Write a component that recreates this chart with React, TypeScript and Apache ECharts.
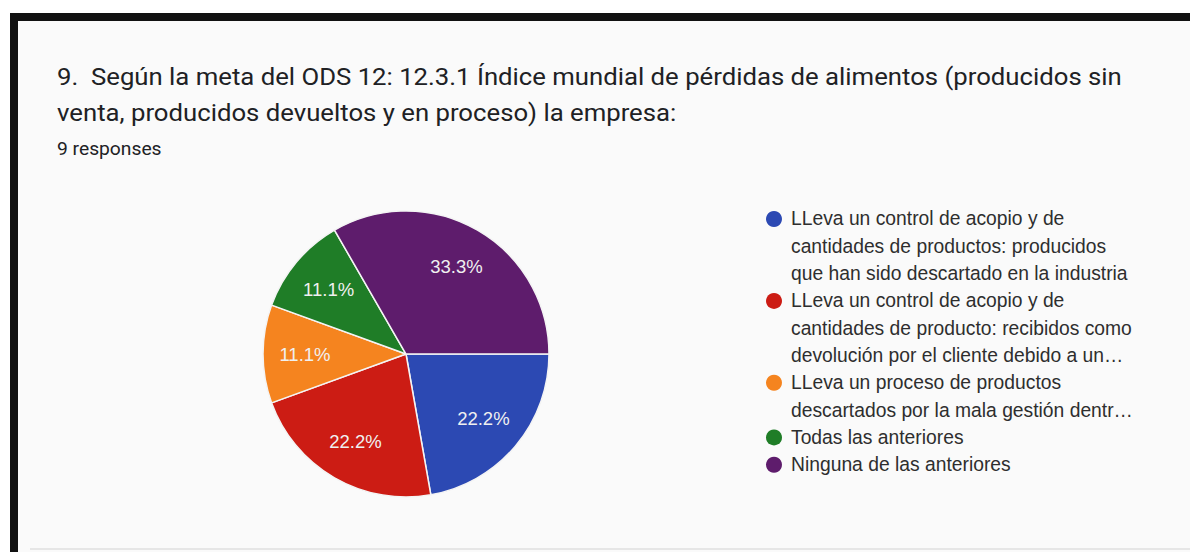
import React, { useEffect, useRef } from "react";
import * as echarts from "echarts";

const titleLines = [
  "9.  Según la meta del ODS 12: 12.3.1 Índice mundial de pérdidas de alimentos (producidos sin",
  "venta, producidos devueltos y en proceso) la empresa:",
];
const subtitle = "9 responses";

const categories = [
  "LLeva un control de acopio y de cantidades de productos: producidos que han sido descartado en la industria",
  "LLeva un control de acopio y de cantidades de producto: recibidos como devolución por el cliente debido a un…",
  "LLeva un proceso de productos descartados por la mala gestión dentr…",
  "Todas las anteriores",
  "Ninguna de las anteriores",
];
const legendLines = [
  ["LLeva un control de acopio y de", "cantidades de productos: producidos", "que han sido descartado en la industria"],
  ["LLeva un control de acopio y de", "cantidades de producto: recibidos como", "devolución por el cliente debido a un…"],
  ["LLeva un proceso de productos", "descartados por la mala gestión dentr…"],
  ["Todas las anteriores"],
  ["Ninguna de las anteriores"],
];
const counts = [2, 2, 1, 1, 3];
const colors = ["#2c49b3", "#cc1c14", "#f5841f", "#1f7d27", "#5e1c6c"];

const ARIAL = 'Arial, "Liberation Sans", sans-serif';
const ROBOTO = 'Roboto, "Noto Sans", sans-serif';

export default function App() {
  const ref = useRef<HTMLDivElement>(null);
  useEffect(() => {
    if (!ref.current) return;
    const chart = echarts.init(ref.current, null, { renderer: "svg" });
    const LH = 27.3;
    const legendX = 774;
    const legendY = 219;
    const legendGraphics: any[] = [];
    let line = 0;
    legendLines.forEach((lines, i) => {
      legendGraphics.push({
        type: "circle",
        shape: { cx: legendX, cy: legendY + line * LH, r: 8 },
        style: { fill: colors[i] },
      });
      legendGraphics.push({
        type: "text",
        x: 791,
        y: legendY + line * LH - LH / 2,
        style: {
          text: lines.join("\n"),
          fontSize: 19.3,
          lineHeight: LH,
          fill: "#2e2e2e",
          fontFamily: ARIAL,
          verticalAlign: "top",
          align: "left",
        },
      });
      line += lines.length;
    });

    const data = categories.map((name, i) => ({
      name,
      value: counts[i],
      itemStyle: { color: colors[i] },
    }));

    chart.setOption({
      animation: false,
      backgroundColor: "#fafafa",
      graphic: [
        { type: "rect", shape: { x: 0, y: 0, width: 1190, height: 13 }, style: { fill: "#ffffff" } },
        { type: "rect", shape: { x: 0, y: 0, width: 10, height: 552 }, style: { fill: "#ffffff" } },
        { type: "rect", shape: { x: 10, y: 13, width: 1180, height: 8 }, style: { fill: "#111111" } },
        { type: "rect", shape: { x: 10, y: 13, width: 8, height: 539 }, style: { fill: "#111111" } },
        { type: "rect", shape: { x: 30, y: 548, width: 1160, height: 2 }, style: { fill: "#e6e6e6" } },
        {
          type: "text",
          x: 57,
          y: 77,
          scaleX: 1.05,
          style: { text: titleLines[0], fontSize: 24.5, fontFamily: ROBOTO, fill: "#202124", verticalAlign: "middle" },
        },
        {
          type: "text",
          x: 57,
          y: 113,
          scaleX: 1.05,
          style: { text: titleLines[1], fontSize: 24.5, fontFamily: ROBOTO, fill: "#202124", verticalAlign: "middle" },
        },
        {
          type: "text",
          x: 57,
          y: 149,
          scaleX: 1.07,
          style: { text: subtitle, fontSize: 18, fontFamily: ROBOTO, fill: "#202124", verticalAlign: "middle" },
        },
        ...legendGraphics,
      ],
      series: [
        {
          type: "pie",
          center: [406, 354],
          radius: 143,
          startAngle: 0,
          clockwise: true,
          label: { show: false },
          labelLine: { show: false },
          itemStyle: { borderColor: "#f4f4f4", borderWidth: 1.5 },
          emphasis: { disabled: true },
          data,
        },
        {
          type: "pie",
          center: [406, 354],
          radius: 196,
          startAngle: 0,
          clockwise: true,
          silent: true,
          z: 5,
          itemStyle: { color: "rgba(0,0,0,0)", borderWidth: 0 },
          label: {
            show: true,
            position: "inside",
            formatter: (p: any) => `${(Math.round(p.value / 9 * 1000) / 10).toFixed(1)}%`,
            color: "#f0f0f0",
            fontSize: 18.5,
            fontFamily: ARIAL,
          },
          labelLine: { show: false },
          emphasis: { disabled: true },
          data: categories.map((name, i) => ({ name, value: counts[i] })),
        },
      ],
    });
    return () => chart.dispose();
  }, []);
  return (
    <div
      ref={ref}
      style={{ position: "fixed", left: 0, top: 0, width: 1190, height: 552 }}
    />
  );
}
